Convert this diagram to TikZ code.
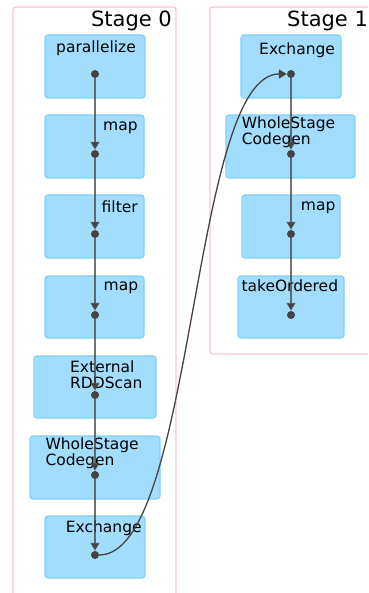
\documentclass[tikz,border=0pt]{standalone}
\usepackage{fontspec}
\setmainfont{DejaVu Sans}
\usetikzlibrary{arrows.meta,calc}
\definecolor{boxfill}{HTML}{A3DDFD}
\definecolor{boxdraw}{HTML}{7FD0FA}
\definecolor{clusterpink}{HTML}{FFC6D0}
\definecolor{edgecol}{HTML}{444444}
\tikzset{
  box/.style={draw=boxdraw, fill=boxfill, line width=1.2pt, rounded corners=3pt, inner sep=0pt},
  cluster/.style={draw=clusterpink, line width=1.4pt, rounded corners=3pt},
  lbl/.style={anchor=base west, inner sep=0pt, font=\fontsize{15.5}{16}\selectfont},
  stagelbl/.style={inner sep=0pt, font=\fontsize{21}{22}\selectfont},
  dot/.style={circle, fill=edgecol, draw=none, minimum size=8pt, inner sep=0pt},
  flow/.style={draw=edgecol, draw opacity=0.75, line width=1.4pt, -{Triangle[length=8pt,width=9pt]}},
  curveedge/.style={draw=edgecol, line width=1.3pt, -{Triangle[length=8pt,width=9pt]}}
}
\begin{document}
\begin{tikzpicture}[x=1pt,y=-1pt]
\useasboundingbox (0,0) rectangle (368,593);
\clip (0,0) rectangle (368,593);
\fill[white] (0,0) rectangle (368,593);
% clusters
\draw[cluster] (13,7) rectangle (176,620);
\draw[cluster] (210,7) rectangle (390,354);
\node[stagelbl, anchor=base east] (st0) at (172,27) {Stage 0};
\node[stagelbl, anchor=base west] (st1) at (287,27) {Stage 1};
% Stage 0 boxes
\node[box, minimum width=100pt, minimum height=63pt] (b1) at (95,66.5) {};
\node[box, minimum width=99pt, minimum height=63pt] (b2) at (94.5,146.5) {};
\node[box, minimum width=99pt, minimum height=63pt] (b3) at (94.5,226.5) {};
\node[box, minimum width=99pt, minimum height=62pt] (b4) at (94.5,307) {};
\node[box, minimum width=122pt, minimum height=62pt] (b5) at (95,387) {};
\node[box, minimum width=130pt, minimum height=63pt] (b6) at (95,467.5) {};
\node[box, minimum width=100pt, minimum height=62pt] (b7) at (95,547) {};
% Stage 1 boxes
\node[box, minimum width=100pt, minimum height=63pt] (c1) at (291,66.5) {};
\node[box, minimum width=129pt, minimum height=63pt] (c2) at (290.5,146.5) {};
\node[box, minimum width=98pt, minimum height=63pt] (c3) at (291,226.5) {};
\node[box, minimum width=106pt, minimum height=62pt] (c4) at (291,307) {};
% labels Stage 0
\node[lbl] (t1) at (56,53) {parallelize};
\node[lbl] (t2) at (103,131) {map};
\node[lbl] (t3) at (101.5,212.3) {filter};
\node[lbl] (t4) at (103.5,290.7) {map};
\node[lbl] (t5a) at (70,372.7) {External};
\node[lbl] (t5b) at (70,388.3) {RDDScan};
\node[lbl] (t6a) at (45.3,449.3) {WholeStage};
\node[lbl] (t6b) at (45.3,465) {Codegen};
\node[lbl] (t7) at (65.7,532.7) {Exchange};
% labels Stage 1
\node[lbl] (u1) at (259,54.3) {Exchange};
\node[lbl] (u2a) at (241.7,128.7) {WholeStage};
\node[lbl] (u2b) at (241.7,144.5) {Codegen};
\node[lbl] (u3) at (300.7,210.5) {map};
\node[lbl] (u4) at (241.3,291.7) {takeOrdered};
% dots
\node[dot] (d1) at (95,74) {};
\node[dot] (d2) at (95,154) {};
\node[dot] (d3) at (95,234) {};
\node[dot] (d4) at (95,315) {};
\node[dot] (d5) at (95,395) {};
\node[dot] (d6) at (95,475) {};
\node[dot] (d7) at (95,555) {};
\node[dot] (e1) at (291,74) {};
\node[dot] (e2) at (291,154) {};
\node[dot] (e3) at (291,234) {};
\node[dot] (e4) at (291,315) {};
% edges
\draw[flow] (d1) -- (d2);
\draw[flow] (d2) -- (d3);
\draw[flow] (d3) -- (d4);
\draw[flow] (d4) -- (d5);
\draw[flow] (d5) -- (d6);
\draw[flow] (d6) -- (d7);
\draw[flow] (e1) -- (e2);
\draw[flow] (e2) -- (e3);
\draw[flow] (e3) -- (e4);
\draw[curveedge] (d7.east) .. controls ($(d7.center)+(100,0)$) and ($(e1.center)+(-100,0)$) .. (e1.west);
\end{tikzpicture}
\end{document}
